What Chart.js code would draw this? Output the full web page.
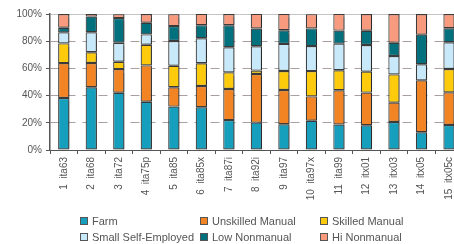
<!DOCTYPE html>
<html>
<head>
<meta charset="utf-8">
<script src="https://cdn.jsdelivr.net/npm/chart.js@4"></script>
<style>
  html, body { margin: 0; padding: 0; background: #fff; overflow: hidden; width: 454px; height: 244px; }
  #wrap { position: absolute; left: 0; top: 0; width: 464px; height: 244px; }
  #legend { position: absolute; left: 80px; top: 214px; width: 370px; display: grid; grid-template-columns: 120px 120px 120px; row-gap: 3px;
            font: 11px "Liberation Sans", Arial, sans-serif; color: #555; }
  #legend .item { display: flex; align-items: center; height: 13px; white-space: nowrap; }
  #legend .box { width: 6px; height: 6px; border: 1px solid #555; margin-right: 4px; flex: none; }
</style>
</head>
<body>
<div id="wrap"><canvas id="chart"></canvas></div>
<div id="legend"></div>
<script>
// surveys along the x axis
const surveys = ['ita63', 'ita68', 'ita72', 'ita75p', 'ita85', 'ita85x', 'ita87i', 'ita92i',
                 'ita97', 'ita97x', 'ita99', 'itx01', 'itx03', 'itx05', 'itx05c'];

// class shares in percent, bottom to top of each bar
const farm        = [38.2, 46.1, 42.1, 35.5, 31.9, 31.4, 22.0, 20.1, 18.9, 21.5, 18.8, 18.2, 20.6, 13.0, 18.4];
const unskilled   = [25.7, 17.9, 17.4, 26.7, 14.2, 15.7, 22.8, 35.8, 25.2, 17.9, 25.1, 24.0, 14.2, 38.2, 24.0];
const skilled     = [14.5,  7.9,  5.4, 15.2, 15.9, 16.7, 12.3,  2.5, 14.0, 18.6, 14.7, 15.4, 20.8,  0.0, 17.2];
const smallSelf   = [ 8.1, 14.7, 14.0,  7.6, 18.1, 18.4, 18.4, 17.9, 19.9, 18.4, 19.6, 19.6, 13.5, 11.8, 19.6];
const lowNonman   = [ 3.4, 11.5, 18.1,  8.6, 11.0,  9.6, 16.2, 13.0, 10.1, 13.0,  9.6, 10.5,  9.8, 21.8, 10.3];
const hiNonman    = [10.1,  2.0,  2.9,  6.4,  8.8,  8.3,  8.3, 10.8, 12.0, 10.5, 12.3, 12.3, 21.1, 15.2, 10.5];

const seriesNames = ['Farm', 'Unskilled Manual', 'Skilled Manual', 'Small Self-Employed', 'Low Nonmanual', 'Hi Nonmanual'];
const seriesData = [farm, unskilled, skilled, smallSelf, lowNonman, hiNonman];
const colors = ['#169fbc', '#f28424', '#fdcb0b', '#c8e9f9', '#03707e', '#f89a7e'];

const yTicks = [0, 20, 40, 60, 80, 100];

const labels = surveys.map((s, i) => (i + 1) + '  ' + s);

const datasets = seriesNames.map((name, i) => ({
    label: name,
    data: seriesData[i],
    backgroundColor: colors[i],
    borderColor: '#3c3c3c',
    borderWidth: 1.2,
    borderSkipped: false,
    categoryPercentage: 1,
    barPercentage: 0.41
}));

// soft grey shadow on the right side of bars
const barShadow = {
    id: 'barShadow',
    beforeDatasetsDraw(chart) {
        const ctx = chart.ctx;
        ctx.save();
        ctx.shadowColor = 'rgba(0,0,0,0.3)';
        ctx.shadowOffsetX = 1.5;
        ctx.shadowBlur = 1;
    },
    afterDatasetsDraw(chart) {
        chart.ctx.restore();
    }
};

const tickFont = { family: '"Liberation Sans", Arial, sans-serif', size: 10 };

new Chart(document.getElementById('chart'), {
    type: 'bar',
    data: { labels, datasets },
    plugins: [barShadow],
    options: {
        responsive: true,
        maintainAspectRatio: false,
        animation: false,
        layout: { padding: { top: 14, right: 0, left: 0, bottom: 0 } },
        plugins: { legend: { display: false }, tooltip: { enabled: false } },
        scales: {
            x: {
                stacked: true,
                afterFit(scale) { scale.height = 94; },
                grid: { display: true, drawOnChartArea: false, offset: true, tickLength: 4, tickColor: '#555' },
                border: { color: '#555', width: 1 },
                ticks: { minRotation: 90, maxRotation: 90, padding: 3, color: '#555', font: tickFont, autoSkip: false }
            },
            y: {
                stacked: true,
                min: 0,
                max: 100,
                afterFit(scale) { scale.width = 50; },
                afterBuildTicks(scale) { scale.ticks = yTicks.map(v => ({ value: v })); },
                grid: {
                    color: ctx => ctx.tick && ctx.tick.value === 100 ? '#c4c4c4' : (ctx.tick && ctx.tick.value === 0 ? 'rgba(0,0,0,0)' : '#ab9f9f'),
                    lineWidth: 1,
                    tickLength: 4,
                    tickColor: '#555'
                },
                border: {
                    color: '#555',
                    width: 1.5,
                    dash: ctx => ctx.tick && ctx.tick.value === 100 ? [] : [9, 7]
                },
                ticks: { padding: 4, color: '#555', font: tickFont, callback: v => v + '%' }
            }
        }
    }
});

// legend in three columns
const legend = document.getElementById('legend');
seriesNames.forEach((name, i) => {
    const item = document.createElement('div');
    item.className = 'item';
    const box = document.createElement('span');
    box.className = 'box';
    box.style.background = colors[i];
    const txt = document.createElement('span');
    txt.textContent = name;
    item.appendChild(box);
    item.appendChild(txt);
    legend.appendChild(item);
});
</script>
</body>
</html>
